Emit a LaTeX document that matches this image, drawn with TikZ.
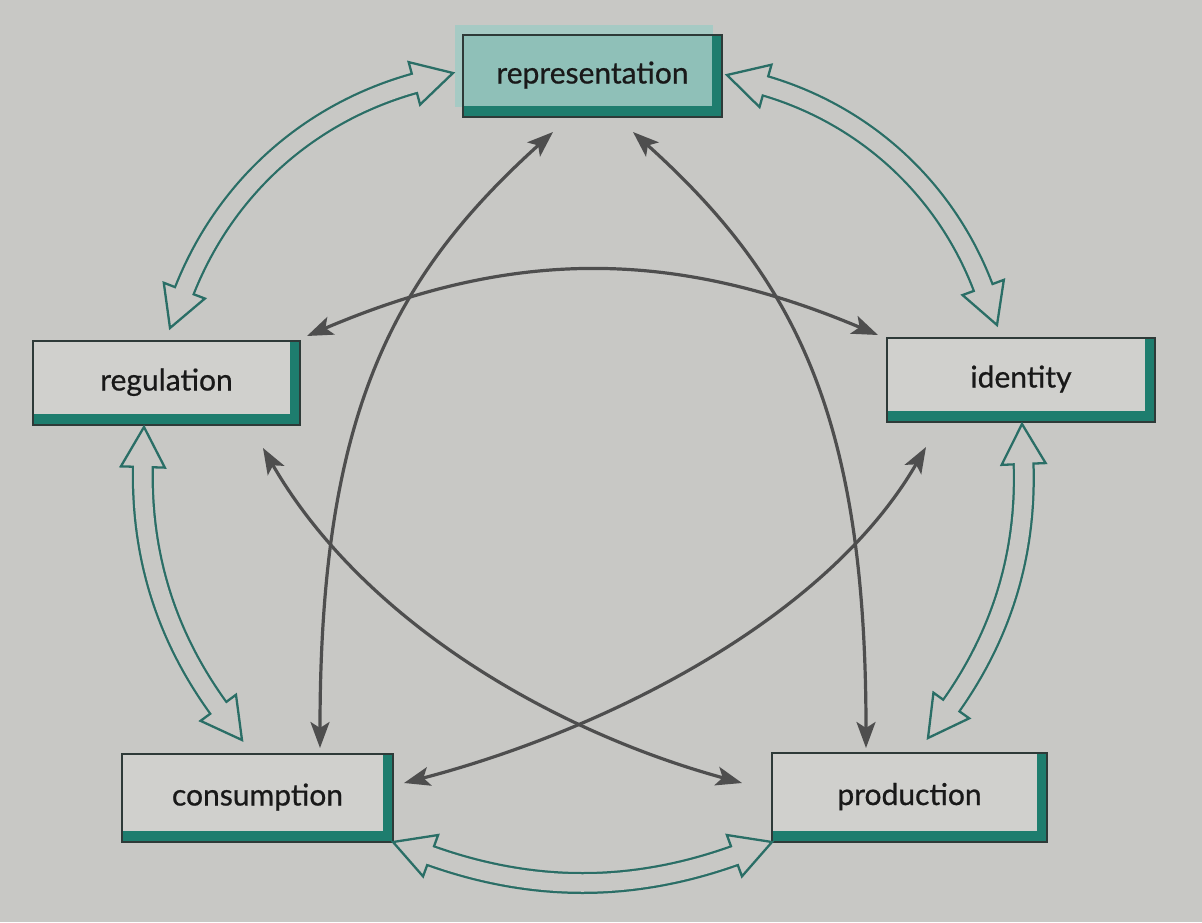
\documentclass[tikz,border=0pt]{standalone}
\usepackage{fontspec}
\setmainfont{Lato}
\newfontfamily\boxfont{Lato}[FakeBold=0.7]
\usetikzlibrary{arrows.meta,calc}
\definecolor{bgc}{HTML}{C8C8C5}
\definecolor{boxc}{HTML}{D0D0CD}
\definecolor{tealc}{HTML}{1E7D6E}
\definecolor{tealo}{HTML}{2A6E66}
\definecolor{grayc}{HTML}{4E4E4E}
\definecolor{repc}{HTML}{8FC0B8}
\definecolor{repback}{HTML}{A6CAC4}
\definecolor{edgec}{HTML}{2E3A38}
\newcommand\hollowarrow[3]{%
  \pgfmathsetmacro\hneg{-(#3)}%
  \coordinate (hb1) at ($(#1)!40pt!#3:(#2)$);
  \coordinate (hb2) at ($(#2)!40pt!\hneg:(#1)$);
  \coordinate (hc1) at ($(hb1)!22pt!90:(#1)$);
  \coordinate (hd1) at ($(hb1)!22pt!-90:(#1)$);
  \coordinate (hc2) at ($(hb2)!22pt!90:(#2)$);
  \coordinate (hd2) at ($(hb2)!22pt!-90:(#2)$);
  \draw[tealo, line width=22pt, shorten <=36pt, shorten >=36pt] (#1) to[bend left=#3] (#2);
  \filldraw[hollowhead] (#1) -- (hc1) -- (hd1) -- cycle;
  \filldraw[hollowhead] (#2) -- (hc2) -- (hd2) -- cycle;
  \draw[bgc, line width=17.5pt, shorten <=36pt, shorten >=36pt] (#1) to[bend left=#3] (#2);
}
\newcommand\boxbands[1]{%
  \fill[tealc] ($(#1.south west)+(1,-11)$) rectangle ($(#1.south east)+(-1,-1)$);
  \fill[tealc] ($(#1.north east)+(-10,1)$) rectangle ($(#1.south east)+(-1,-1)$);
}
\tikzset{
  box/.style={draw=edgec, line width=1.5pt, fill=boxc, inner sep=0pt, outer sep=0pt,
    font=\boxfont\fontsize{30}{34}\selectfont, text=black!90, text height=21pt, text depth=6pt},
  hollowhead/.style={fill=bgc, draw=tealo, line width=2.3pt, line join=miter},
  grayarrow/.style={draw=grayc, line width=3.2pt,
    {Stealth[length=26pt,width=19pt,inset=6pt]}-{Stealth[length=26pt,width=19pt,inset=6pt]}}
}
\begin{document}
\begin{tikzpicture}[x=1pt,y=-1pt]
\useasboundingbox (0,0) rectangle (1202,922);
\fill[bgc] (0,0) rectangle (1202,922);
% representation box with offset back panel
\fill[repback] (455,25) rectangle (713,107);
\node[box, fill=repc, minimum width=259pt, minimum height=82pt] (rep) at (592.5,76) {representation};
\boxbands{rep}
\node[box, minimum width=267pt, minimum height=84pt] (reg) at (166.5,383) {regulation};
\boxbands{reg}
\node[box, minimum width=268pt, minimum height=84pt] (ide) at (1021,380) {identity};
\boxbands{ide}
\node[box, minimum width=271pt, minimum height=88pt] (con) at (257.5,798) {consumption};
\boxbands{con}
\node[box, minimum width=275pt, minimum height=89pt] (pro) at (909.5,797.5) {production};
\boxbands{pro}
% hollow (double) arrows end points
\coordinate (h1a) at (453,73);  \coordinate (h1b) at (170,328);
\coordinate (h2a) at (727,75);  \coordinate (h2b) at (997,325);
\coordinate (h3a) at (144,427); \coordinate (h3b) at (242,740);
\coordinate (h4a) at (1022,424);\coordinate (h4b) at (928,738);
\coordinate (h5a) at (con.south east); \coordinate (h5b) at (pro.south west);
\hollowarrow{h1a}{h1b}{-27}
\hollowarrow{h2a}{h2b}{27}
\hollowarrow{h3a}{h3b}{-19}
\hollowarrow{h4a}{h4b}{19}
\hollowarrow{h5a}{h5b}{-20}
% grey arrows
\coordinate (ga1) at (553,132); \coordinate (ga2) at (320,748);
\coordinate (gb1) at (633,132); \coordinate (gb2) at (866,748);
\coordinate (gc1) at (307,336); \coordinate (gc2) at (878,335);
\coordinate (gd1) at (263,448); \coordinate (gd2) at (742,783);
\coordinate (ge1) at (926,447); \coordinate (ge2) at (404,783);
\draw[grayarrow] (ga1) .. controls (390,279) and (320,418) .. (ga2);
\draw[grayarrow] (gb1) .. controls (796,279) and (866,418) .. (gb2);
\draw[grayarrow] (gc1) to[bend left=23] (gc2);
\draw[grayarrow] (gd1) .. controls (363,621) and (552,731) .. (gd2);
\draw[grayarrow] (ge1) .. controls (826,620) and (603,731) .. (ge2);
\end{tikzpicture}
\end{document}
